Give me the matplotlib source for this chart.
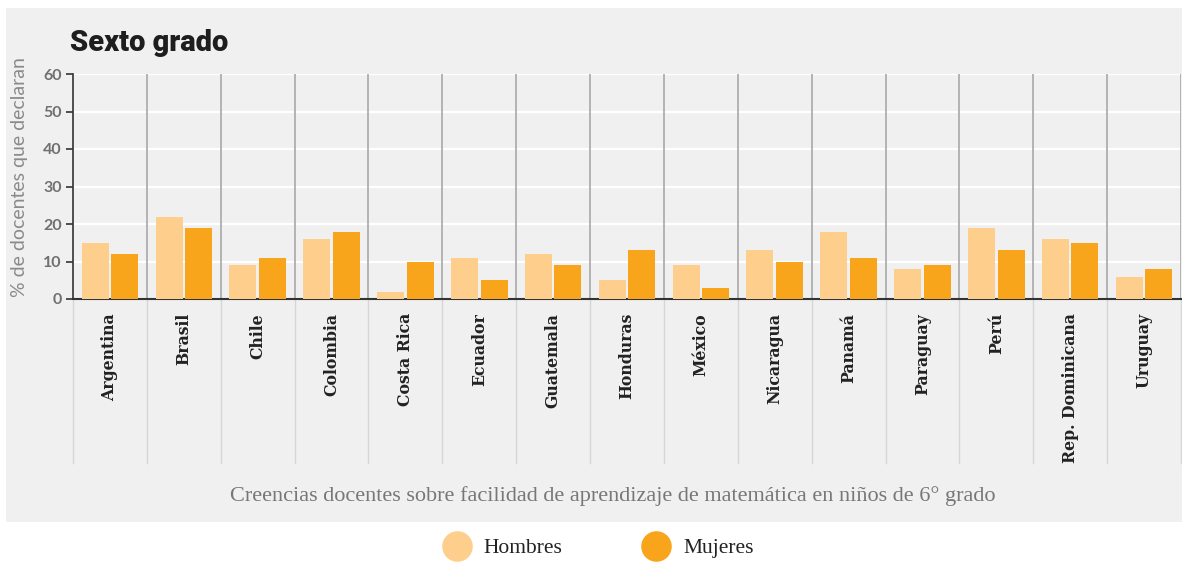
import matplotlib.pyplot as plt
from matplotlib.patches import Rectangle
from matplotlib.lines import Line2D
import numpy as np

paises = ["Argentina", "Brasil", "Chile", "Colombia", "Costa Rica", "Ecuador",
          "Guatemala", "Honduras", "México", "Nicaragua", "Panamá", "Paraguay",
          "Perú", "Rep. Dominicana", "Uruguay"]
hombres = [15, 22, 9, 16, 2, 11, 12, 5, 9, 13, 18, 8, 19, 16, 6]
mujeres = [12, 19, 11, 18, 10, 5, 9, 13, 3, 10, 11, 9, 13, 15, 8]

c_hom = "#FECE8C"
c_muj = "#F9A51C"
fondo = "#F0F0F0"

W, H = 1182, 563
fig = plt.figure(figsize=(W / 100, H / 100), dpi=100)
fig.patch.set_facecolor("white")

# panel gris de fondo
fig.patches.append(Rectangle((6 / W, 1 - 522 / H), 1, (522 - 8) / H,
                             transform=fig.transFigure, facecolor=fondo,
                             edgecolor="none", zorder=-10))

ax = fig.add_axes([73 / W, 1 - 299 / H, 1108 / W, 225 / H])
ax.set_facecolor(fondo)

x = np.arange(len(paises))
ax.bar(x - 0.2, hombres, width=0.365, color=c_hom, zorder=3)
ax.bar(x + 0.2, mujeres, width=0.365, color=c_muj, zorder=3)

ax.set_xlim(-0.5, len(paises) - 0.5)
ax.set_ylim(0, 60)
ax.set_yticks(range(0, 61, 10))
ax.yaxis.grid(True, color="white", linewidth=1.6, zorder=1)
ax.set_axisbelow(True)

# separadores entre países
for b in np.arange(-0.5, len(paises), 1.0):
    if b > -0.5:
        ax.axvline(b, color="#A8A8A8", linewidth=1.2, zorder=2)
    ax.plot([b, b], [0, -0.73], color="#D6D6D6", linewidth=1.0,
            transform=ax.get_xaxis_transform(), clip_on=False, zorder=2)

for s in ["top", "right"]:
    ax.spines[s].set_visible(False)
ax.spines["left"].set_color("#333333")
ax.spines["bottom"].set_color("#333333")
ax.spines["bottom"].set_linewidth(1.5)
ax.spines["left"].set_linewidth(1.2)

ax.set_xticks(x)
ax.set_xticklabels(paises, rotation=90, va="top", ha="center",
                   fontfamily="DejaVu Serif", fontweight="bold", fontsize=11.3,
                   color="#222222")
ax.tick_params(axis="x", length=0, pad=10)
ax.tick_params(axis="y", length=5, width=1.2, color="#333333", pad=3,
               labelsize=11.5, labelcolor="#707070")
for t in ax.get_yticklabels():
    t.set_fontfamily("Lato")
    t.set_fontweight("bold")

ax.set_ylabel("% de docentes que declaran", fontfamily="Lato", fontsize=14,
              color="#8A8A8A")
ax.yaxis.set_label_coords(-0.041, 0.54)

fig.text(70 / W, 1 - 43 / H, "Sexto grado", fontfamily="Roboto",
         fontweight="black", fontsize=21, color="#1E1E1E", va="center")

fig.text(613 / W, 1 - 496 / H,
         "Creencias docentes sobre facilidad de aprendizaje de matemática en niños de 6° grado",
         fontfamily="Liberation Serif", fontsize=16, color="#777777",
         ha="center", va="center")

handles = [Line2D([], [], linestyle="none", marker="o", markersize=22,
                  markerfacecolor=c, markeredgecolor="none")
           for c in (c_hom, c_muj)]
fig.legend(handles, ["Hombres", "Mujeres"], loc="center",
           bbox_to_anchor=(597 / W, 1 - 548 / H), ncol=2, frameon=False,
           prop={"family": "Liberation Serif", "size": 15.5},
           labelcolor="#222222",
           handletextpad=0.5, columnspacing=3.6, handlelength=1.5)

fig.savefig("out.png", dpi=100, facecolor="white")
